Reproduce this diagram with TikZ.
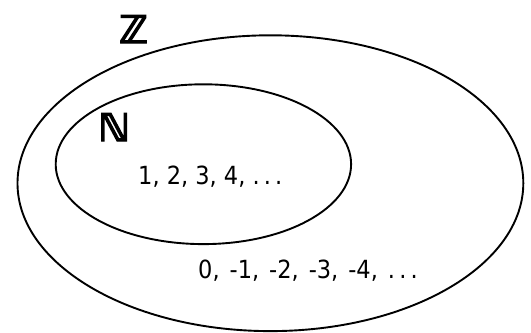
\documentclass[tikz,border=0pt]{standalone}
\usepackage{fontspec}
\usetikzlibrary{shapes.geometric}
\newfontfamily\numfont{DejaVu Sans Condensed}
\newfontfamily\setfont{DejaVu Sans Bold}[FakeBold=3.5]
\tikzset{
  setring/.style={ellipse, draw=black, line width=1.9bp, inner sep=0pt, fill=none},
  numtext/.style={anchor=base west, inner sep=0pt, font=\numfont\fontsize{25bp}{28bp}\selectfont},
  setlabel/.style={anchor=base west, inner sep=0pt, font=\setfont\fontsize{38bp}{40bp}\selectfont}
}
\begin{document}
\begin{tikzpicture}[x=1bp,y=-1bp]
\useasboundingbox[fill=white] (0,0) rectangle (531,332);
\node[setring, minimum width=505.8bp, minimum height=295.8bp] (Zset) at (270.4,183.2) {};
\node[setring, minimum width=295.4bp, minimum height=159.8bp] (Nset) at (203.4,164.2) {};
\node[setlabel] (Zlab) at (119,43) {ℤ};
\node[setlabel] (Nlab) at (98,141) {ℕ};
\node[numtext] (pos) at (138,184) {1, 2, 3, 4, .\,.\,.};
\node[numtext] (rest) at (198,278) {\spaceskip=10bp plus 1bp 0, -1, -2, -3, -4, .\,.\,.};
\end{tikzpicture}
\end{document}
